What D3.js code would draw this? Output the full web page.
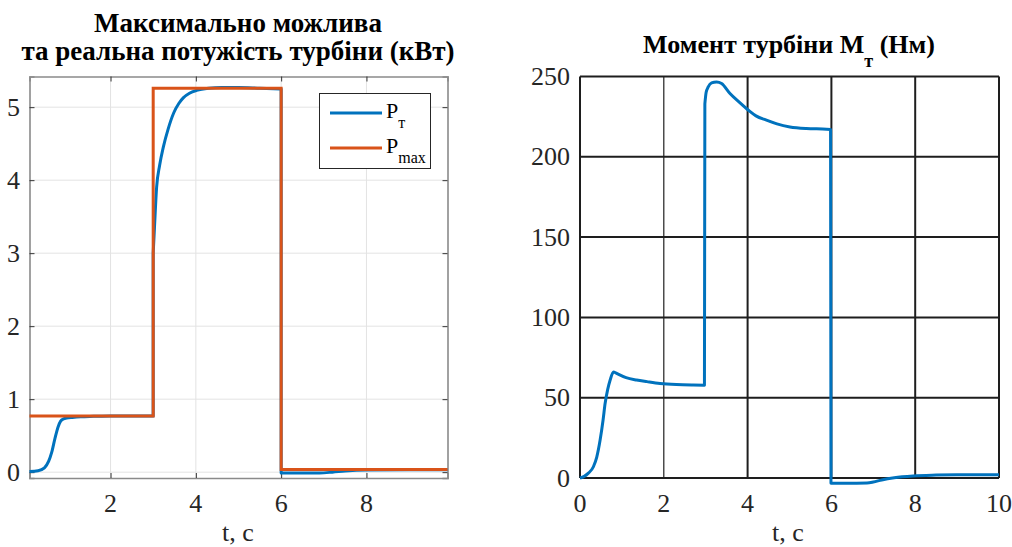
<!DOCTYPE html>
<html>
<head>
<meta charset="utf-8">
<script src="https://cdn.jsdelivr.net/npm/d3@7/dist/d3.min.js"></script>
<style>
  html, body { margin: 0; padding: 0; background: #fff; }
  svg { display: block; }
</style>
</head>
<body>
<svg id="chart" width="1012" height="547"></svg>
<script>
// Left panel: available (Pmax) and actual (Pт) turbine power, kW
const powerTime = [0.1, 0.3, 0.45, 0.55, 0.62, 0.7, 0.77, 0.83, 0.9, 0.97, 1.1, 1.3, 1.6, 2.0, 2.5, 3.0,
                   3.0, 3.03, 3.08, 3.15, 3.24, 3.35, 3.48, 3.6, 3.71, 3.85, 4.02, 4.3, 4.6, 5.0, 5.5, 6.0,
                   6.0, 6.3, 6.9, 7.2, 7.5, 8.0, 9.0, 9.9];
const powerActual = [0.01, 0.02, 0.06, 0.15, 0.27, 0.47, 0.62, 0.70, 0.73, 0.74, 0.75, 0.76, 0.765, 0.77, 0.77, 0.77,
                     3.0, 3.35, 3.9, 4.2, 4.46, 4.7, 4.92, 5.05, 5.13, 5.19, 5.23, 5.26, 5.27, 5.27, 5.26, 5.25,
                     -0.01, -0.01, -0.01, 0.0, 0.015, 0.028, 0.032, 0.033];
const powerMaxTime = [0.1, 3.0, 3.0, 6.0, 6.0, 9.9];
const powerMax = [0.77, 0.77, 5.26, 5.26, 0.035, 0.035];

// Right panel: turbine torque Mт, N·m
const torqueTime = [0, 0.1, 0.2, 0.32, 0.4, 0.48, 0.55, 0.6, 0.66, 0.72, 0.8, 0.85, 0.91, 1.1, 1.35, 1.6, 1.91, 2.3, 2.7, 2.97,
                    2.98, 3.01, 3.06, 3.14, 3.26, 3.38, 3.58, 3.8, 4.02, 4.2, 4.45, 4.7, 5.01, 5.4, 5.89, 5.98,
                    5.99, 6.3, 6.6, 6.85, 7.0, 7.2, 7.5, 7.95, 8.5, 9.0, 10];
const torque = [0, 1, 3, 7, 13, 23.6, 36, 46.5, 55, 61, 66, 65.5, 64.7, 62.5, 61, 60, 58.9, 58.2, 57.9, 57.8,
                233, 240, 243.5, 246, 246.6, 245.6, 239.4, 234, 229, 225.5, 222.8, 220.5, 218.6, 217.6, 217.2, 217,
                -3.2, -3.2, -3.2, -3.1, -2.5, -1.2, 0.2, 1.3, 1.8, 2.0, 2.1];

// Axis ticks
const powerXTicks = [2, 4, 6, 8];
const powerYTicks = [0, 1, 2, 3, 4, 5];
const torqueXTicks = [0, 2, 4, 6, 8, 10];
const torqueYTicks = [0, 50, 100, 150, 200, 250];

const BLUE = "#0072BD", ORANGE = "#D95319";
const SERIF = '"Liberation Serif", "Times New Roman", serif';
const svg = d3.select("#chart");

// Smooth each continuous stretch, joining stretches with vertical jumps
function steppedSmoothPath(xs, ys, sx, sy) {
  const pts = d3.zip(xs, ys);
  const pieces = [[pts[0]]];
  for (let i = 1; i < pts.length; i++) {
    if (pts[i][0] - pts[i - 1][0] <= 0.015) pieces.push([]);
    pieces[pieces.length - 1].push(pts[i]);
  }
  const gen = d3.line().x(d => sx(d[0])).y(d => sy(d[1])).curve(d3.curveMonotoneX);
  return pieces.map((p, i) => {
    const s = p.length > 1 ? gen(p) : `M${sx(p[0][0])},${sy(p[0][1])}`;
    return i === 0 ? s : "L" + s.slice(1);
  }).join("");
}

function txt(g) {
  return g.append("text").style("font-family", SERIF);
}

// ---------- Left panel ----------
const L = { x0: 29.5, x1: 447.5, y0: 478, y1: 76.5 };
const lx = d3.scaleLinear().domain([0.1, 9.9]).range([L.x0, L.x1]);
const ly = d3.scaleLinear().domain([-0.08, 5.42]).range([L.y0, L.y1]);
const gL = svg.append("g");

// grid
gL.append("g").selectAll("line").data(powerXTicks).join("line")
  .attr("x1", d => lx(d)).attr("x2", d => lx(d)).attr("y1", L.y0).attr("y2", L.y1)
  .attr("stroke", "#e3e3e3").attr("stroke-width", 1);
gL.append("g").selectAll("line").data(powerYTicks).join("line")
  .attr("x1", L.x0).attr("x2", L.x1).attr("y1", d => ly(d)).attr("y2", d => ly(d))
  .attr("stroke", "#e3e3e3").attr("stroke-width", 1);

// axes (ticks inside, box on)
const lxAxis = gL.append("g").attr("transform", `translate(0,${L.y0})`)
  .call(d3.axisTop(lx).tickValues(powerXTicks).tickSize(5).tickFormat(""));
const lxAxisTop = gL.append("g").attr("transform", `translate(0,${L.y1})`)
  .call(d3.axisBottom(lx).tickValues(powerXTicks).tickSize(5).tickFormat(""));
const lyAxis = gL.append("g").attr("transform", `translate(${L.x0},0)`)
  .call(d3.axisRight(ly).tickValues(powerYTicks).tickSize(5).tickFormat(""));
const lyAxisRight = gL.append("g").attr("transform", `translate(${L.x1},0)`)
  .call(d3.axisLeft(ly).tickValues(powerYTicks).tickSize(5).tickFormat(""));
[lxAxis, lxAxisTop, lyAxis, lyAxisRight].forEach(a => {
  a.select(".domain").attr("stroke", "#8a8a8a").attr("stroke-width", 1.6);
  a.selectAll(".tick line").attr("stroke", "#333").attr("stroke-width", 1);
});

// tick labels
gL.append("g").selectAll("text").data(powerXTicks).join("text")
  .style("font-family", SERIF)
  .attr("x", d => lx(d)).attr("y", 511.5).attr("text-anchor", "middle")
  .attr("font-size", 26).attr("fill", "#262626").text(d => d);
gL.append("g").selectAll("text").data(powerYTicks).join("text")
  .style("font-family", SERIF)
  .attr("x", 20).attr("y", d => ly(d) + 8.5).attr("text-anchor", "end")
  .attr("font-size", 26).attr("fill", "#262626").text(d => d);

// series
const lineL = d3.line().x(d => lx(d[0])).y(d => ly(d[1]));
gL.append("path").attr("d", steppedSmoothPath(powerTime, powerActual, lx, ly))
  .attr("fill", "none").attr("stroke", BLUE).attr("stroke-width", 3).attr("stroke-linejoin", "round");
gL.append("path").datum(d3.zip(powerMaxTime, powerMax)).attr("d", lineL)
  .attr("fill", "none").attr("stroke", ORANGE).attr("stroke-width", 3);

// title
txt(gL).attr("x", 238).attr("y", 31.5).attr("text-anchor", "middle")
  .attr("font-size", 27).attr("font-weight", "bold").attr("fill", "#000").text("Максимально можлива");
txt(gL).attr("x", 238).attr("y", 59.5).attr("text-anchor", "middle")
  .attr("font-size", 27).attr("font-weight", "bold").attr("fill", "#000").text("та реальна потужість турбіни (кВт)");
// x label
txt(gL).attr("x", 238).attr("y", 541).attr("text-anchor", "middle")
  .attr("font-size", 26).attr("fill", "#262626").text("t, с");

// legend
const leg = gL.append("g");
leg.append("rect").attr("x", 319.5).attr("y", 93.5).attr("width", 111).attr("height", 75)
  .attr("fill", "#fff").attr("stroke", "#262626").attr("stroke-width", 1);
const legItems = [
  { color: BLUE, sub: "т", y: 113 },
  { color: ORANGE, sub: "max", y: 148 }
];
legItems.forEach(it => {
  leg.append("line").attr("x1", 330).attr("x2", 382).attr("y1", it.y).attr("y2", it.y)
    .attr("stroke", it.color).attr("stroke-width", 3);
  const t = txt(leg).attr("x", 386).attr("y", it.y + 4.5).attr("font-size", 22).attr("fill", "#000");
  t.append("tspan").text("P");
  t.append("tspan").attr("dy", 10).attr("font-size", 16).text(it.sub);
});

// ---------- Right panel ----------
const R = { x0: 580, x1: 999, y0: 478, y1: 76.5 };
const rx = d3.scaleLinear().domain([0, 10]).range([R.x0, R.x1]);
const ry = d3.scaleLinear().domain([0, 250]).range([R.y0, R.y1]);
const gR = svg.append("g");

gR.append("g").selectAll("line").data(torqueXTicks).join("line")
  .attr("x1", d => rx(d)).attr("x2", d => rx(d)).attr("y1", R.y0).attr("y2", R.y1)
  .attr("stroke", "#1e1e1e").attr("stroke-width", d => d === 2 ? 1.2 : 2);
gR.append("g").selectAll("line").data(torqueYTicks).join("line")
  .attr("x1", R.x0).attr("x2", R.x1).attr("y1", d => ry(d)).attr("y2", d => ry(d))
  .attr("stroke", "#1e1e1e").attr("stroke-width", 2);

gR.append("g").selectAll("text").data(torqueXTicks).join("text")
  .style("font-family", SERIF)
  .attr("x", d => rx(d)).attr("y", 511.5).attr("text-anchor", "middle")
  .attr("font-size", 26).attr("fill", "#262626").text(d => d);
gR.append("g").selectAll("text").data(torqueYTicks).join("text")
  .style("font-family", SERIF)
  .attr("x", 570).attr("y", d => ry(d) + 8.5).attr("text-anchor", "end")
  .attr("font-size", 26).attr("fill", "#262626").text(d => d);

gR.append("path").attr("d", steppedSmoothPath(torqueTime, torque, rx, ry))
  .attr("fill", "none").attr("stroke", BLUE).attr("stroke-width", 3).attr("stroke-linejoin", "round");

const rt = txt(gR).attr("x", 789).attr("y", 52.5).attr("text-anchor", "middle")
  .attr("font-size", 26).attr("font-weight", "bold").attr("fill", "#000");
rt.append("tspan").text("Момент турбіни М");
rt.append("tspan").attr("dy", 14).attr("font-size", 18).text("т");
rt.append("tspan").attr("dy", -14).text(" (Нм)");

txt(gR).attr("x", 788).attr("y", 541).attr("text-anchor", "middle")
  .attr("font-size", 26).attr("fill", "#262626").text("t, с");
</script>
</body>
</html>
